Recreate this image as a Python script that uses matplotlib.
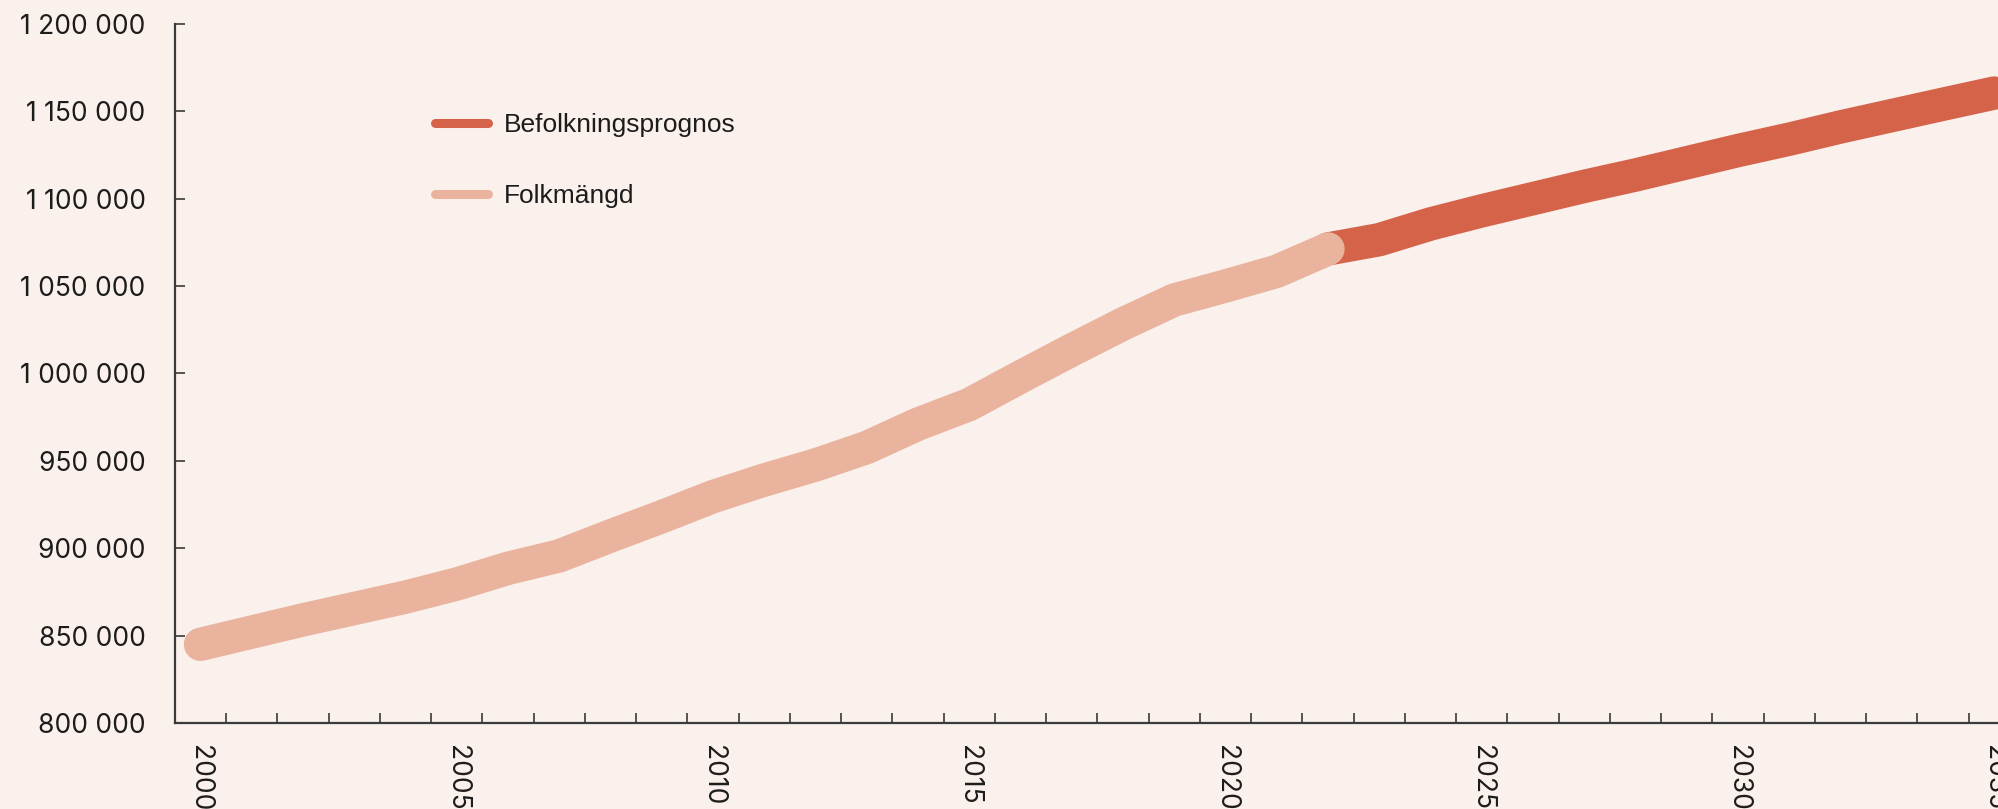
import numpy as np
import matplotlib
matplotlib.use("Agg")
from matplotlib import pyplot as plt
from matplotlib.ticker import FixedLocator, FuncFormatter

# data
years_obs = list(range(2000, 2023))
folkmangd = [845000, 852000, 859000, 865500, 872000, 879500, 888500, 895600,
             907000, 918000, 929500, 939000, 947600, 957600, 971000, 982200,
             998000, 1013400, 1028300, 1042000, 1050000, 1058400, 1071200]

years_prog = list(range(2022, 2036))
prognos = [1071200, 1076500, 1085500, 1093000, 1100000, 1107000, 1113500,
           1120500, 1127500, 1134000, 1141000, 1147500, 1154000, 1160400]

label_years = [2000, 2005, 2010, 2015, 2020, 2025, 2030, 2035]
y_ticks = [800000, 850000, 900000, 950000, 1000000, 1050000, 1100000, 1150000, 1200000]

bg = "#faf0ec"
c_prog = "#d4634a"
c_obs = "#eab39e"
txt = "#1c1c1c"
axc = "#3a3a3a"

plt.rcParams['font.family'] = ['Inter', 'DejaVu Sans']

fig = plt.figure(figsize=(19.98, 8.09), dpi=100, facecolor=bg)
ax = fig.add_axes([0.0875, 0.1063, 0.9235, 0.8643], facecolor=bg)

ax.plot(years_prog, prognos, color=c_prog, lw=24, solid_capstyle='round',
        solid_joinstyle='round', label="Befolkningsprognos", zorder=2)
ax.plot(years_obs, folkmangd, color=c_obs, lw=24, solid_capstyle='round',
        solid_joinstyle='round', label="Folkmängd", zorder=3)

ax.set_xlim(1999.5, 2035.5)
ax.set_ylim(800000, 1200000)

for s in ['top', 'right']:
    ax.spines[s].set_visible(False)
for s in ['left', 'bottom']:
    ax.spines[s].set_color(axc)
    ax.spines[s].set_linewidth(1.6)

ax.yaxis.set_major_locator(FixedLocator(y_ticks))
ax.yaxis.set_major_formatter(FuncFormatter(lambda v, p: f"{int(v):,}".replace(",", " ")))
ax.tick_params(axis='y', direction='in', length=7.2, width=1.2, color=axc,
               pad=21, labelsize=19, labelcolor=txt)

ax.xaxis.set_major_locator(FixedLocator(label_years))
ax.xaxis.set_minor_locator(FixedLocator(np.arange(1999.5, 2036, 1.0)))
ax.tick_params(axis='x', which='major', length=0, pad=16, labelsize=19,
               labelcolor=txt, labelrotation=-90)
ax.tick_params(axis='x', which='minor', direction='in', length=7.2, width=1.2,
               color=axc)
for lbl in ax.get_xticklabels():
    lbl.set_verticalalignment('top')
    lbl.set_horizontalalignment('center')

leg = ax.legend(loc='upper left', bbox_to_anchor=(435 / 1998, 1 - 113 / 809),
                bbox_transform=fig.transFigure, frameon=False,
                prop={'family': ['Liberation Sans', 'DejaVu Sans'], 'size': 19},
                handlelength=2.0, handletextpad=0.6, labelspacing=1.8,
                borderpad=0, borderaxespad=0)
for h in leg.get_lines():
    h.set_linewidth(6.5)
    h.set_solid_capstyle('round')
for t in leg.get_texts():
    t.set_color(txt)

fig.savefig("out.png", dpi=100, facecolor=bg)
